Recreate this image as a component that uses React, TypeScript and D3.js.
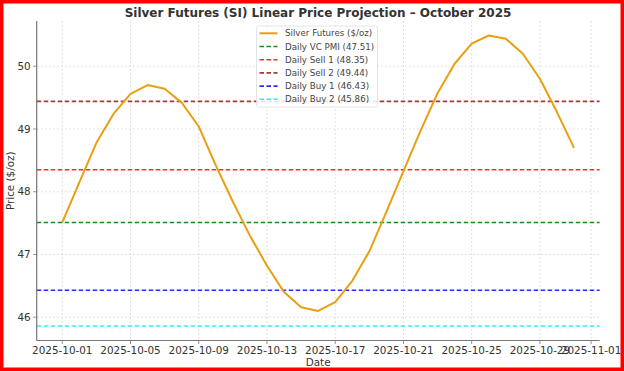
import * as d3 from "d3";

// Projected silver price, one point per day from 2025-10-01
const startDate = "2025-10-01";
const prices = [
  47.51, 48.15, 48.78, 49.24, 49.56, 49.7, 49.64, 49.42, 49.04, 48.42, 47.84,
  47.3, 46.82, 46.4, 46.16, 46.1, 46.24, 46.58, 47.05, 47.68, 48.33, 48.97,
  49.57, 50.04, 50.36, 50.49, 50.44, 50.2, 49.8, 49.27, 48.7,
];

const levelNames = ["Daily VC PMI", "Daily Sell 1", "Daily Sell 2", "Daily Buy 1", "Daily Buy 2"];
const levelValues = [47.51, 48.35, 49.44, 46.43, 45.86];
const levelColors = ["#1a8a1a", "#ff2a2a", "#a83a3a", "#2a2aff", "#30f0f0"];

const xTickLabels = [
  "2025-10-01", "2025-10-05", "2025-10-09", "2025-10-13", "2025-10-17",
  "2025-10-21", "2025-10-25", "2025-10-29", "2025-11-01",
];
const yTickValues = [46, 47, 48, 49, 50];

const W = 624;
const H = 371;
const left = 36.7;
const right = 599.6;
const top = 21;
const bottom = 340.5;
const font = "DejaVu Sans, sans-serif";

const day = 86400000;
const dates = prices.map((_, i) => new Date(Date.parse(startDate) + i * day));

export default function App() {
  const [d0, d1] = d3.extent(dates) as [Date, Date];
  const xPad = (+d1 - +d0) * 0.05;
  const x = d3
    .scaleUtc()
    .domain([new Date(+d0 - xPad), new Date(+d1 + xPad)])
    .range([left, right]);

  const lo = Math.min(d3.min(prices)!, d3.min(levelValues)!);
  const hi = Math.max(d3.max(prices)!, d3.max(levelValues)!);
  const yPad = (hi - lo) * 0.05;
  const y = d3.scaleLinear().domain([lo - yPad, hi + yPad]).range([bottom, top]);

  const line = d3
    .line<number>()
    .x((_, i) => x(dates[i]))
    .y((d) => y(d));

  const xTicks = xTickLabels.map((s) => new Date(s + "T00:00:00Z"));

  const legendItems = [
    { label: "Silver Futures ($/oz)", color: "#e8a012", dash: "" },
    ...levelNames.map((n, i) => ({
      label: `${n} (${levelValues[i].toFixed(2)})`,
      color: levelColors[i],
      dash: "4.5,2.5",
    })),
  ];

  return (
    <svg
      width={W}
      height={H}
      style={{ position: "absolute", left: 0, top: 0, fontFamily: font }}
    >
      <rect x={0} y={0} width={W} height={H} fill="#fff" />

      {/* grid */}
      {xTicks.map((t, i) => (
        <line key={"gx" + i} x1={x(t)} x2={x(t)} y1={top} y2={bottom}
          stroke="#d8d8d8" strokeWidth={0.8} strokeDasharray="2,2" />
      ))}
      {yTickValues.map((v) => (
        <line key={"gy" + v} x1={left} x2={right} y1={y(v)} y2={y(v)}
          stroke="#d8d8d8" strokeWidth={0.8} strokeDasharray="2,2" />
      ))}

      {/* reference levels */}
      {levelValues.map((v, i) => (
        <line key={"lv" + i} x1={left} x2={right} y1={y(v)} y2={y(v)}
          stroke={levelColors[i]} strokeWidth={1.6} strokeDasharray="4.5,2.5" />
      ))}

      {/* price line */}
      <path d={line(prices) ?? ""} fill="none" stroke="#e8a012" strokeWidth={2}
        strokeLinejoin="round" />

      {/* spines */}
      <line x1={left} x2={left} y1={top} y2={bottom} stroke="#777" strokeWidth={1.2} />
      <line x1={left} x2={right} y1={bottom} y2={bottom} stroke="#777" strokeWidth={1.2} />

      {/* x axis */}
      {xTicks.map((t, i) => (
        <g key={"xt" + i} transform={`translate(${x(t)},${bottom})`}>
          <line y2={3.5} stroke="#777" strokeWidth={0.8} />
          <text y={13.5} textAnchor="middle" fontSize={10.4} fill="#333">
            {xTickLabels[i]}
          </text>
        </g>
      ))}
      <text x={(left + right) / 2} y={366} textAnchor="middle" fontSize={10.4} fill="#333">
        Date
      </text>

      {/* y axis */}
      {yTickValues.map((v) => (
        <g key={"yt" + v} transform={`translate(${left},${y(v)})`}>
          <line x2={-3.5} stroke="#777" strokeWidth={0.8} />
          <text x={-6} dy="0.36em" textAnchor="end" fontSize={10.4} fill="#333">
            {v}
          </text>
        </g>
      ))}
      <text transform={`translate(14,${(top + bottom) / 2}) rotate(-90)`}
        textAnchor="middle" fontSize={10.4} fill="#333">
        Price ($/oz)
      </text>

      {/* title */}
      <text x={318} y={17} textAnchor="middle" fontSize={12} fontWeight="bold" fill="#333">
        Silver Futures (SI) Linear Price Projection – October 2025
      </text>

      {/* legend */}
      <g transform="translate(256.5,26)">
        <rect width={121} height={81} rx={2} fill="#fff" fillOpacity={0.85}
          stroke="#ddd" strokeWidth={0.8} />
        {legendItems.map((it, i) => (
          <g key={"lg" + i} transform={`translate(0,${7.3 + i * 13.2})`}>
            <line x1={3} x2={21} stroke={it.color} strokeWidth={it.dash ? 1.6 : 2}
              strokeDasharray={it.dash || undefined} />
            <text x={28.5} dy="0.35em" fontSize={8.7} fill="#444">
              {it.label}
            </text>
          </g>
        ))}
      </g>

      {/* red frame */}
      <rect x={1.75} y={1.75} width={W - 3.5} height={H - 3.5} fill="none"
        stroke="#ff0000" strokeWidth={3.5} />
    </svg>
  );
}
